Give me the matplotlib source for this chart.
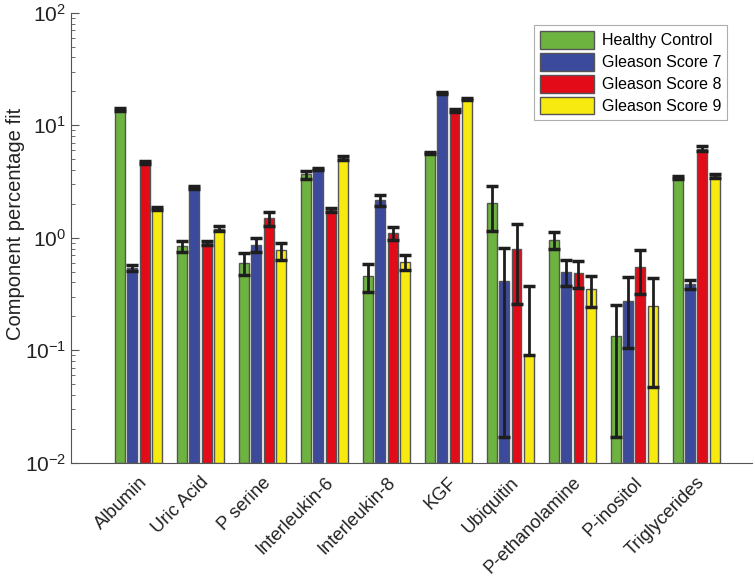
import numpy as np
import matplotlib
matplotlib.use("Agg")
import matplotlib.pyplot as plt

plt.rcParams['font.family'] = ['Liberation Sans', 'DejaVu Sans']
plt.rcParams['mathtext.default'] = 'regular'

# Dados
compostos = ["Albumin", "Uric Acid", "P serine", "Interleukin-6", "Interleukin-8",
             "KGF", "Ubiquitin", "P-ethanolamine", "P-inositol", "Triglycerides"]
grupos = ["Healthy Control", "Gleason Score 7", "Gleason Score 8", "Gleason Score 9"]

controle = [13.7, 0.84, 0.60, 3.65, 0.456, 5.66, 2.02, 0.96, 0.135, 3.43]
gleason7 = [0.54, 2.8, 0.87, 4.06, 2.17, 19.3, 0.41, 0.50, 0.274, 0.385]
gleason8 = [4.7, 0.90, 1.49, 1.77, 1.10, 13.5, 0.79, 0.49, 0.55, 6.2]
gleason9 = [1.83, 1.2, 0.77, 5.1, 0.61, 17.1, 0.091, 0.35, 0.245, 3.55]

erro_controle = [0.4, 0.10, 0.13, 0.3, 0.13, 0.15, 0.87, 0.16, 0.118, 0.1]
erro_gleason7 = [0.03, 0.08, 0.13, 0.1, 0.25, 0.4, 0.393, 0.13, 0.17, 0.035]
erro_gleason8 = [0.15, 0.03, 0.22, 0.06, 0.15, 0.3, 0.53, 0.13, 0.235, 0.3]
erro_gleason9 = [0.06, 0.06, 0.13, 0.2, 0.09, 0.3, 0.28, 0.11, 0.198, 0.15]
# parte inferior do erro (Ubiquitin GS9 ficaria negativo no log, nao aparece)
erro_inf_gleason9 = [0.06, 0.06, 0.13, 0.2, 0.09, 0.3, 0.0, 0.11, 0.198, 0.15]

cores = ["#6db33f", "#3b4a9c", "#e30b17", "#f7ea10"]

valores = [controle, gleason7, gleason8, gleason9]
erros_sup = [erro_controle, erro_gleason7, erro_gleason8, erro_gleason9]
erros_inf = [erro_controle, erro_gleason7, erro_gleason8, erro_inf_gleason9]

base = 0.01  # barras partem do limite inferior do eixo log

fig = plt.figure(figsize=(7.55, 5.77), dpi=100)
ax = fig.add_axes([0.094, 0.198, 0.902, 0.780])

x = np.arange(1, len(compostos) + 1)
largura = 0.16
deslocamentos = [-0.3, -0.1, 0.1, 0.3]

for k in range(4):
    pos = x + deslocamentos[k]
    alturas = np.array(valores[k]) - base
    ax.bar(pos, alturas, width=largura, bottom=base, color=cores[k],
           edgecolor="#555555", linewidth=1.0, label=grupos[k], zorder=2)
    ax.errorbar(pos, valores[k], yerr=[erros_inf[k], erros_sup[k]], fmt="none",
                ecolor="#1e1e1e", elinewidth=2.0, capsize=4.5, capthick=2.5, zorder=3)

ax.set_yscale("log")
ax.set_ylim(0.01, 100)
ax.set_xlim(-0.09, 10.9)

ax.set_xticks(x)
ax.set_xticklabels(compostos, rotation=45, ha="right", rotation_mode="anchor",
                   fontsize=13.2, color="#222222")
ax.tick_params(axis="x", length=0, pad=8)
ax.tick_params(axis="y", which="major", direction="in", length=6, labelsize=15,
               color="#555555", labelcolor="#222222")
ax.tick_params(axis="y", which="minor", direction="in", length=3, color="#555555")
ax.set_ylabel("Component percentage fit", fontsize=14.5, color="#222222")
ax.yaxis.set_label_coords(-0.068, 0.53)

ax.spines["top"].set_visible(False)
ax.spines["right"].set_visible(False)
ax.spines["left"].set_color("#555555")
ax.spines["bottom"].set_color("#555555")

leg = ax.legend(loc="upper right", bbox_to_anchor=(0.975, 0.99), fontsize=11.5,
                frameon=True, fancybox=False, edgecolor="#999999",
                handlelength=3.4, handleheight=1.35, handletextpad=0.5,
                labelspacing=0.25, borderpad=0.35)
leg.get_frame().set_linewidth(0.8)

fig.savefig("out.png", dpi=100)
